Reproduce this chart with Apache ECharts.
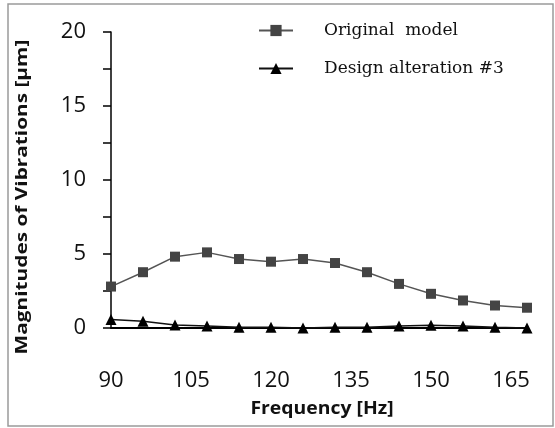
<!DOCTYPE html>
<html><head><meta charset="utf-8">
<script src="https://cdn.jsdelivr.net/npm/echarts@6/dist/echarts.min.js"></script>
<style>html,body{margin:0;padding:0;background:#fff}#c{width:555px;height:428px}</style>
</head><body><div id="c"></div>
<script>
const frequency = [90, 96, 102, 108, 114, 120, 126, 132, 138, 144, 150, 156, 162, 168];
const originalModel = [2.8, 3.77, 4.82, 5.11, 4.66, 4.48, 4.66, 4.39, 3.77, 2.98, 2.31, 1.86, 1.52, 1.37];
const designAlteration3 = [0.58, 0.45, 0.2, 0.13, 0.05, 0.05, 0.0, 0.05, 0.05, 0.13, 0.18, 0.13, 0.05, 0.0];
const xTicks = [90, 105, 120, 135, 150, 165];
const yTicks = [0, 5, 10, 15, 20];

const chart = echarts.init(document.getElementById('c'), null, {renderer: 'canvas'});
const pair = (xs, ys) => xs.map((x, i) => [x, ys[i]]);
chart.setOption({
  animation: false,
  backgroundColor: '#fff',
  grid: {left: 111, right: 28, top: 32, bottom: 100},
  legend: {
    left: 253, top: 17, orient: 'vertical', itemGap: 21, itemWidth: 34, itemHeight: 14,
    textStyle: {fontFamily: 'DejaVu Serif', fontSize: 17, color: '#111', padding: [0, 0, 0, 26]},
    data: ['Original  model', 'Design alteration #3']
  },
  xAxis: {
    type: 'value', min: 90, max: 168, interval: 15,
    axisLine: {lineStyle: {color: '#000', width: 2}},
    axisTick: {show: false},
    splitLine: {show: false},
    axisLabel: {
      margin: 42, fontFamily: 'Open Sans', fontSize: 22, color: '#111', showMaxLabel: false,
      formatter: v => xTicks.includes(v) ? String(v) : ''
    }
  },
  yAxis: {
    type: 'value', min: 0, max: 20, interval: 2.5,
    axisLine: {show: true, lineStyle: {color: '#000', width: 1.5}},
    axisTick: {show: true, length: 8, lineStyle: {color: '#000', width: 1.5}},
    splitLine: {show: false},
    axisLabel: {
      margin: 25, fontFamily: 'Open Sans', fontSize: 22, color: '#111',
      formatter: v => yTicks.includes(v) ? String(v) : ''
    }
  },
  series: [
    {
      name: 'Original  model', type: 'line', data: pair(frequency, originalModel),
      symbol: 'rect', symbolSize: 10,
      itemStyle: {color: '#444'}, lineStyle: {color: '#555', width: 1.5}, z: 3
    },
    {
      name: 'Design alteration #3', type: 'line', data: pair(frequency, designAlteration3),
      symbol: 'triangle', symbolSize: 11,
      itemStyle: {color: '#000'}, lineStyle: {color: '#111', width: 1.5}, z: 4
    }
  ],
  graphic: [
    {type: 'rect', shape: {x: 8, y: 4, width: 545, height: 422}, style: {fill: 'none', stroke: '#9a9a9a', lineWidth: 1.5}, z: -1},
    {type: 'text', x: 22, y: 197, rotation: Math.PI / 2, scaleX: 1.3, style: {text: 'Magnitudes of Vibrations [μm]', font: 'bold 16px "Open Sans"', fill: '#111', align: 'center', verticalAlign: 'middle'}},
    {type: 'text', x: 322, y: 409, scaleX: 1.14, style: {text: 'Frequency [Hz]', font: 'bold 17px "Open Sans"', fill: '#111', align: 'center', verticalAlign: 'middle'}}
  ]
});
</script></body></html>
